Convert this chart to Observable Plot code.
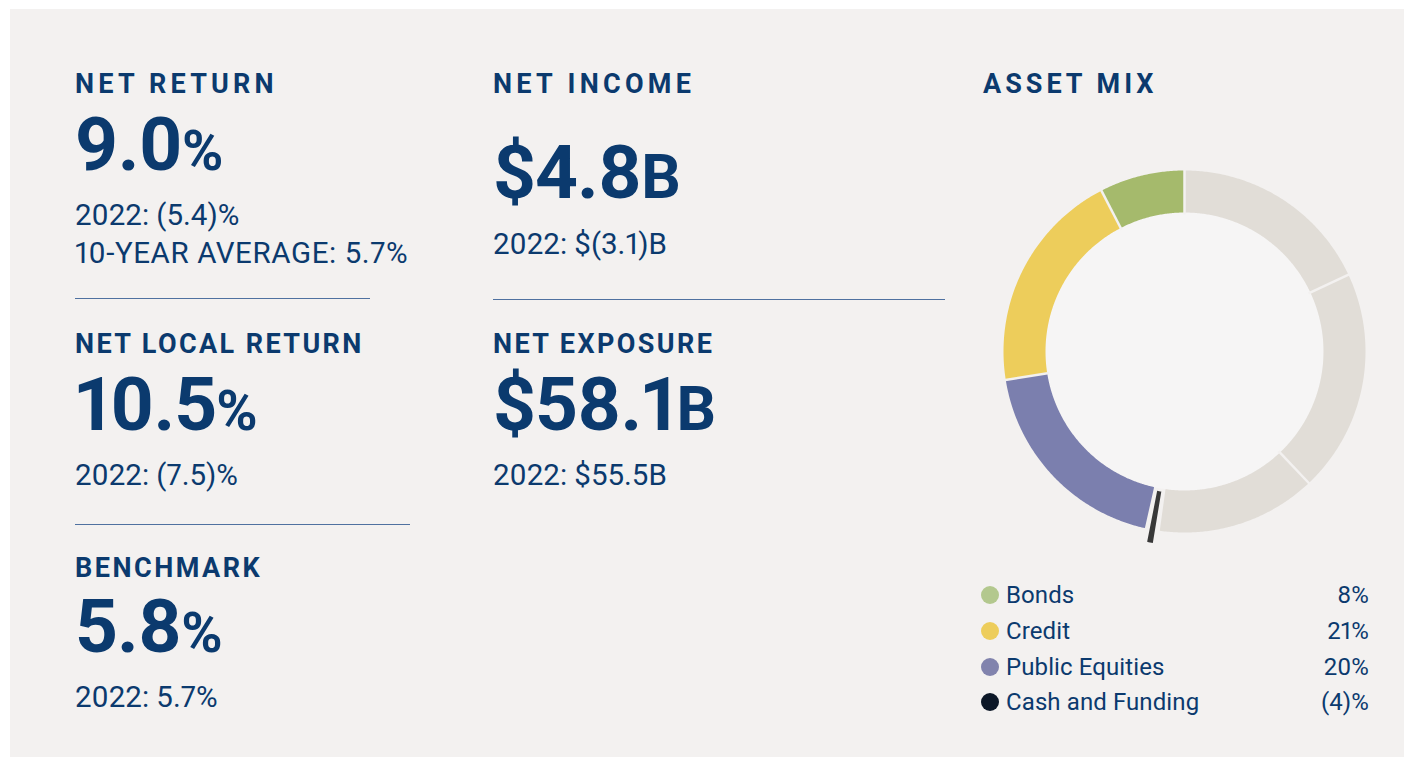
<!DOCTYPE html>
<html>
<head>
<meta charset="utf-8">
<script src="https://cdn.jsdelivr.net/npm/d3@7"></script>
<script src="https://cdn.jsdelivr.net/npm/@observablehq/plot@0.6"></script>
<style>
  html, body { margin: 0; padding: 0; background: #ffffff; }
  #page { position: relative; width: 1414px; height: 766px; overflow: hidden; background: #ffffff;
          font-family: Roboto, "Noto Sans", sans-serif; color: #0b3a6e; }
  #card { position: absolute; left: 10px; top: 9px; width: 1394px; height: 748px; background: #f3f1f0; }
  .t { position: absolute; white-space: nowrap; font-variant-numeric: proportional-nums; }
  .title { font-weight: 700; }
  .big { font-weight: 700; letter-spacing: -1px; }
  .sub { font-weight: 400; }
  .rule { position: absolute; height: 0; border-top: 1.5px solid #4f71a0; }
  .leg { letter-spacing: 0.1px; }
  .dot { position: absolute; width: 18px; height: 18px; border-radius: 50%; }
  #donut { position: absolute; left: 984px; top: 151px; width: 400px; height: 400px; }
</style>
</head>
<body>
<div id="page"><div id="card"></div><div id="donut"></div></div>
<script>
// ---------------- DATA ----------------
const kpiTitles  = ["NET RETURN", "NET LOCAL RETURN", "BENCHMARK", "NET INCOME", "NET EXPOSURE"];
const kpiValues  = ["9.0", "10.5", "5.8", "4.8", "58.1"];
const kpiPrefix  = ["", "", "", "$", "$"];
const kpiUnits   = ["%", "%", "%", "B", "B"];
const priorYear  = ["2022: (5.4)%", "2022: (7.5)%", "2022: 5.7%", "2022: $(3.1)B", "2022: $55.5B"];
const tenYearAvg = "10-YEAR AVERAGE: 5.7%";
const mixTitle   = "ASSET MIX";

const assetNames   = ["Bonds", "Credit", "Public Equities", "Cash and Funding"];
const assetWeights = [8, 21, 20, -4];
const assetLabels  = ["8%", "21%", "20%", "(4)%"];
// unlabelled (grey) asset classes, clockwise from 12 o'clock (estimated)
const otherWeights = [19, 21, 15];

// ---------------- STYLE / LAYOUT ----------------
const ringColors = {"Bonds": "#a5ba6c", "Credit": "#edcd5b", "Public Equities": "#7b7fae", "Cash and Funding": "#383838"};
const dotColors  = {"Bonds": "#b3c88e", "Credit": "#edcd5b", "Public Equities": "#8183ad", "Cash and Funding": "#0c1727"};
const otherColor = "#e1ddd7";
const cardBg = "#f3f1f0";
const innerFill = "#f6f5f5";

const colX        = [75, 75, 75, 493, 493];
const titleBase   = [94, 354, 578, 94, 354];
const titleTrack  = [4.2, 2.4, 2.5, 4.3, 2.4];
const valueBase   = [170, 430, 652, 198, 430];
const priorBase   = [226, 486, 708, 255, 486];
const unitSize    = {"%": 56, "B": 62};
const titleFS = 27, bigFS = 75, subFS = 29.5, legFS = 24;

const page = document.getElementById("page");
function place(html, cls, x, baseline, fs, extra) {
  const d = document.createElement("div");
  d.className = "t " + cls;
  d.innerHTML = html;
  d.style.left = x + "px";
  d.style.fontSize = fs + "px";
  d.style.lineHeight = fs + "px";
  d.style.top = (baseline - 0.842 * fs) + "px";
  if (extra) Object.assign(d.style, extra);
  page.appendChild(d);
  return d;
}

kpiTitles.forEach((t, i) => {
  place(t, "title", colX[i], titleBase[i], titleFS, {letterSpacing: titleTrack[i] + "px"});
  place(`${kpiPrefix[i]}${kpiValues[i]}<span style="font-size:${unitSize[kpiUnits[i]]}px">${kpiUnits[i]}</span>`,
        "big", colX[i], valueBase[i], bigFS);
  place(priorYear[i], "sub", colX[i], priorBase[i], subFS);
});
place(tenYearAvg, "sub", 75, 264, subFS, {letterSpacing: "0.6px"});
place(mixTitle, "title", 983, 94, titleFS, {letterSpacing: "4px"});

function rule(x, y, w) {
  const r = document.createElement("div");
  r.className = "rule";
  r.style.left = x + "px"; r.style.top = y + "px"; r.style.width = w + "px";
  page.appendChild(r);
}
rule(75, 298, 295);
rule(75, 524, 335);
rule(493, 299, 452);

// legend
const legRows = [595, 631, 667, 702];
assetNames.forEach((n, i) => {
  const d = document.createElement("div");
  d.className = "dot";
  d.style.left = (990 - 9) + "px";
  d.style.top = (legRows[i] - 9) + "px";
  d.style.background = dotColors[n];
  page.appendChild(d);
  place(n, "leg", 1006, legRows[i] + 8.5, legFS);
  place(assetLabels[i], "leg", 0, legRows[i] + 8.5, legFS, {left: "auto", right: (1414 - 1369) + "px"});
});

// ---------------- DONUT ----------------
const rOuter = 181, rInner = 139;
const gapUnits = 1.4; // room for the negative (cash) marker
const ring = [];
otherWeights.forEach((w, i) => ring.push({key: "other" + i, w, color: otherColor}));
ring.push({key: "gap", w: gapUnits, color: null});
["Public Equities", "Credit", "Bonds"].forEach(n => ring.push({key: n, w: assetWeights[assetNames.indexOf(n)], color: ringColors[n]}));
const total = d3.sum(ring, d => d.w);
let acc = 0;
ring.forEach(d => { d.a0 = acc / total * 360; acc += d.w; d.a1 = acc / total * 360; });

const rad = a => a * Math.PI / 180;
const pt = (a, r) => ({x: r * Math.sin(rad(a)), y: r * Math.cos(rad(a))});
function arcPts(key, color, a0, a1, r0, r1) {
  const n = Math.max(2, Math.ceil((a1 - a0) / 0.5));
  const pts = [];
  for (let k = 0; k <= n; k++) pts.push({key, color, ...pt(a0 + (a1 - a0) * k / n, r1)});
  for (let k = n; k >= 0; k--) pts.push({key, color, ...pt(a0 + (a1 - a0) * k / n, r0)});
  return pts;
}
const segPts = ring.filter(d => d.color).flatMap(d => arcPts(d.key, d.color, d.a0, d.a1, rInner, rOuter));
const gap = ring.find(d => d.key === "gap");
const gapMid = (gap.a0 + gap.a1) / 2;
const sliverPts = arcPts("cash", ringColors["Cash and Funding"], gapMid - 0.85, gapMid + 0.85, 142, 194);
const innerPts = d3.range(0, 361, 1).map(a => ({key: "inner", ...pt(a, rInner)}));
const seps = ring.filter((d, i) => d.color && ring[(i + 1) % ring.length].color).map(d => {
  const p0 = pt(d.a1, rInner - 2), p1 = pt(d.a1, rOuter + 2);
  return {x1: p0.x, y1: p0.y, x2: p1.x, y2: p1.y};
});

const chart = Plot.plot({
  width: 400, height: 400, margin: 0,
  style: {background: "transparent"},
  x: {domain: [-200, 200], axis: null},
  y: {domain: [-200, 200], axis: null},
  color: {type: "identity"},
  marks: [
    Plot.line(innerPts, {x: "x", y: "y", fill: innerFill, stroke: "none", curve: "linear-closed"}),
    Plot.line(segPts, {x: "x", y: "y", z: "key", fill: "color", stroke: "none", curve: "linear-closed"}),
    Plot.link(seps, {x1: "x1", y1: "y1", x2: "x2", y2: "y2", stroke: cardBg, strokeWidth: 2.5}),
    Plot.line(sliverPts, {x: "x", y: "y", z: "key", fill: "color", stroke: "none", curve: "linear-closed"})
  ]
});
document.getElementById("donut").appendChild(chart);
</script>
</body>
</html>
